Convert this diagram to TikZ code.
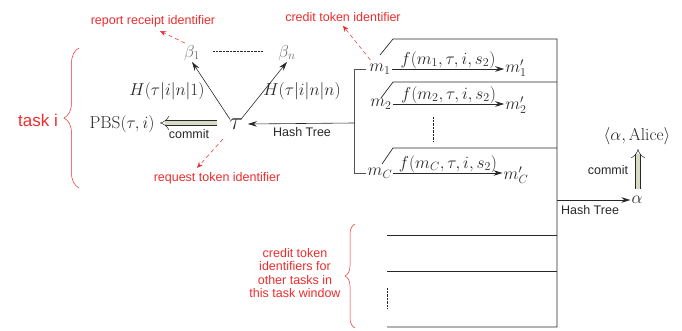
\documentclass[tikz,border=0pt]{standalone}
\usepackage{fontspec}
\newfontfamily\hv{Liberation Sans}
\usetikzlibrary{arrows.meta,decorations.pathreplacing,calc}
\definecolor{myred}{RGB}{236,45,45}
\definecolor{cfill}{RGB}{214,220,196}
\definecolor{ln}{RGB}{40,40,40}
\definecolor{bgray}{RGB}{110,110,110}
\begin{document}
\begin{tikzpicture}[x=1pt,y=-1pt,
  mth/.style={font=\fontsize{17.28}{20}\selectfont, text=ln, inner sep=1pt},
  sans/.style={font=\hv\fontsize{12.5}{14}\selectfont, text=ln, inner sep=1pt},
  redtxt/.style={font=\hv\fontsize{12.5}{13.6}\selectfont, text=myred, inner sep=1pt},
  reddash/.style={myred, line width=0.5pt, dash pattern=on 4pt off 3pt, -{Stealth[length=6pt,width=5pt]}},
  conn/.style={ln, line width=0.6pt, -{Stealth[length=9pt,width=5.5pt]}},
  frame/.style={ln, line width=0.7pt},
  commitarrow/.style={draw=ln, line width=0.5pt, double=cfill, double distance=4.5pt, -{Implies}},
  bracestyle/.style={myred, line width=0.5pt, decorate}
]
\useasboundingbox (0,0) rectangle (682,331);

% left part
\node[mth, font=\fontsize{24.88}{28}\selectfont] (tau) at (236,124) {$\tau$};
\node[mth] (pbs) at (122,124) {$\mathrm{PBS}(\tau,i)$};
\node[mth, text=bgray] (b1) at (192,53) {$\beta_1$};
\node[mth, text=bgray] (bn) at (287,53) {$\beta_n$};
\node[mth] (h1) at (167,91) {$H(\tau|i|n|1)$};
\node[mth] (hn) at (302,91) {$H(\tau|i|n|n)$};
\draw[conn] ($(tau.north west)+(2,2)$) -- (b1.south);
\draw[conn] ($(tau.north east)+(-3,2)$) -- (bn.south);
\coordinate (d1) at (213,51);
\coordinate (d2) at (263,51);
\draw[ln, densely dotted] (d1) -- (d2);
\coordinate (ct1) at (217,123);
\coordinate (ch1) at (160,123);
\draw[commitarrow] (ct1) -- (ch1);
\node[sans] (cm1) at (189,134) {commit};

% hash tree into tau
\coordinate (hb) at (354,123);
\draw[conn] (hb) -- ($(tau.east)+(4,0)$);
\node[sans] (ht1) at (302,132) {Hash Tree};

% m nodes
\node[mth] (m1) at (380,69) {$m_1$};
\node[mth] (m2) at (381,104) {$m_2$};
\node[mth] (mC) at (380,173) {$m_C$};
\node[mth] (m1p) at (516,68) {$m'_1$};
\node[mth] (m2p) at (516,105) {$m'_2$};
\node[mth] (mCp) at (516,175) {$m'_C$};
\draw[conn] (m1.east) -- node[mth, above, inner sep=0pt] (f1) {$f(m_1,\tau,i,s_2)$} (m1.east -| m1p.west);
\draw[conn] (m2.east) -- node[mth, above, inner sep=0pt] (f2) {$f(m_2,\tau,i,s_2)$} (m2.east -| m2p.west);
\draw[conn] (mC.east) -- node[mth, above, inner sep=0pt] (fC) {$f(m_C,\tau,i,s_2)$} (mC.east -| mCp.west);
\draw[ln, densely dotted] (433,117) -- (433,142);

% bracket
\draw[frame, ln!80] (366,69) -- (354,69) -- (354,173) -- (366,173);

% frame
\draw[frame] (380,55) -- (393,39) -- (557,39) -- (557,327) -- (387,327);
\draw[frame] (381,98) -- (393,82) -- (557,82);
\draw[frame] (382,164) -- (393,148) -- (557,148);
\draw[frame] (387,235) -- (557,235);
\draw[frame] (387,271) -- (557,271);
\draw[ln, densely dotted] (387,288) -- (387,308);

% alpha
\node[mth] (alpha) at (637,200) {$\alpha$};
\node[mth] (alice) at (637,136) {$\langle\alpha,\mathrm{Alice}\rangle$};
\coordinate (ht2s) at (557,200);
\draw[conn] (ht2s) -- (alpha.west);
\node[sans] (ht2) at (590,210) {Hash Tree};
\coordinate (ct2) at (638,189);
\coordinate (ch2) at (638,149);
\draw[commitarrow] (ct2) -- (ch2);
\node[sans] (cm2) at (608,170) {commit};

% red annotations
\node[redtxt] (rr) at (153,21) {report receipt identifier};
\draw[reddash] ($(b1.north)+(-7,-1)$) -- ($(rr.south)+(7,3)$);
\node[redtxt] (cti) at (343,17) {credit token identifier};
\draw[reddash] ($(m1.north west)+(2,-3)$) -- ($(cti.south)+(0,3)$);
\node[redtxt] (rti) at (217,178) {request token identifier};
\draw[reddash] (223,139) -- ($(rti.north)+(-20,-3)$);
\node[font=\hv\fontsize{17}{20}\selectfont, text=myred, inner sep=1pt] (task) at (38,120) {task i};
\draw[bracestyle, decoration={brace, amplitude=15pt}] (79,188) -- (79,48);
\node[redtxt, align=center] (ctt) at (295,273) {credit token\\identifiers for\\other tasks in\\this task window};
\draw[bracestyle, decoration={brace, amplitude=10pt}] (355,328) -- (355,224);
\end{tikzpicture}
\end{document}
